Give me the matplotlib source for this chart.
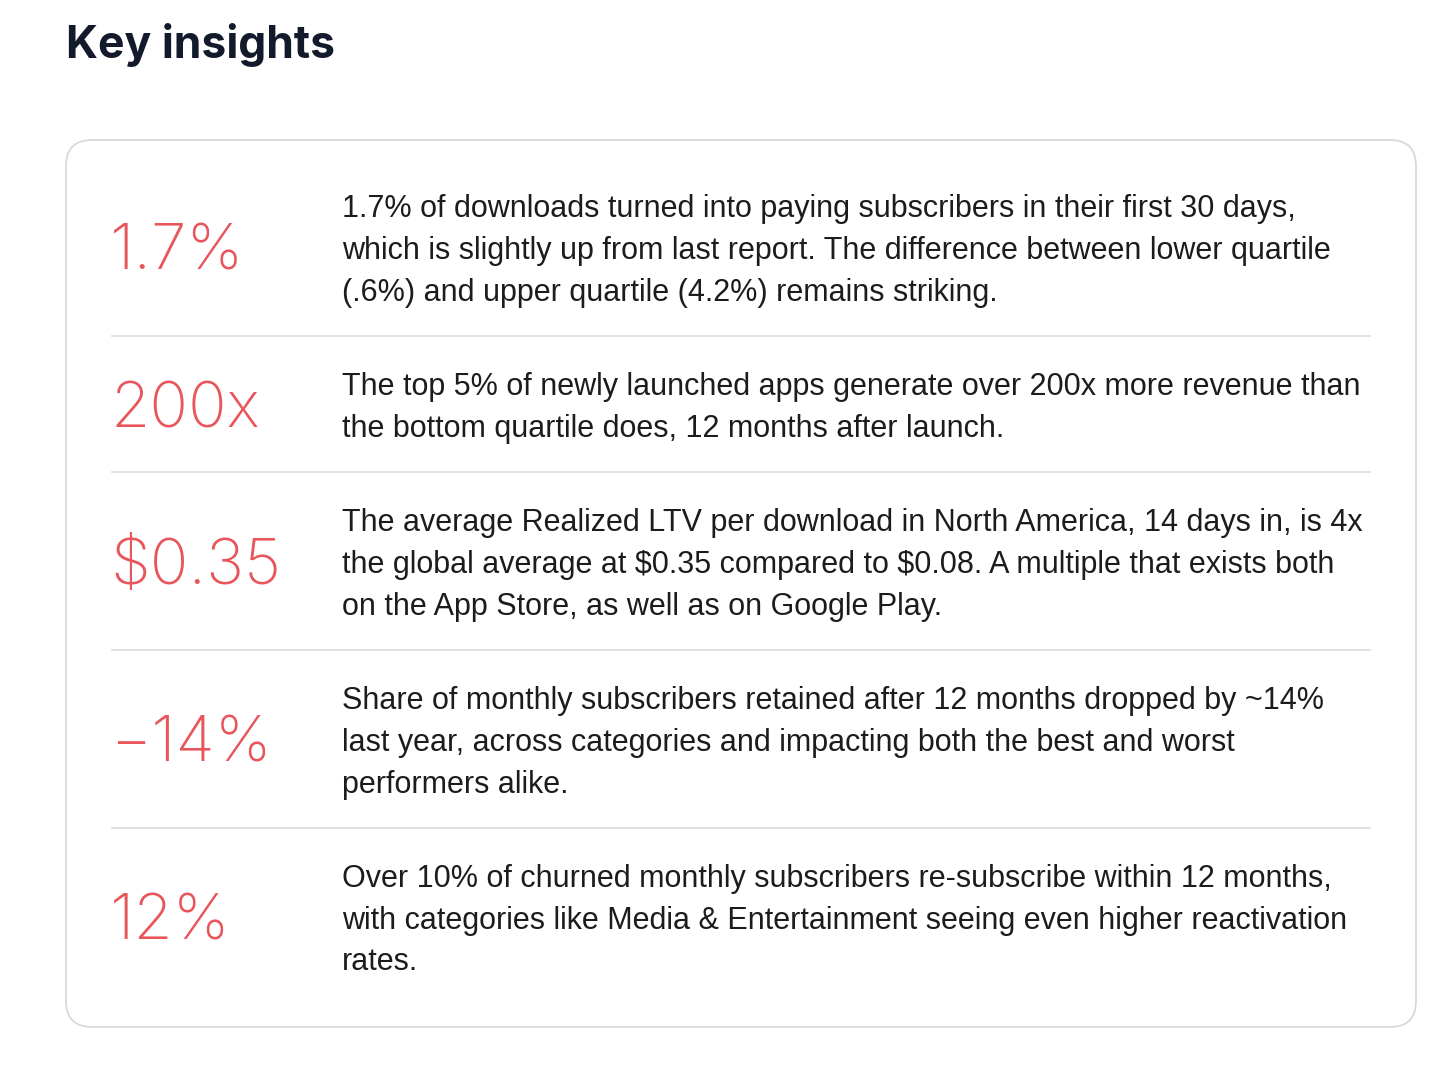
import matplotlib.pyplot as plt
from matplotlib.patches import FancyBboxPatch

# content
title = "Key insights"
big_values = ["1.7%", "200x", "$0.35", "\u221214%", "12%"]
descriptions = [
    ["1.7% of downloads turned into paying subscribers in their first 30 days,",
     "which is slightly up from last report. The difference between lower quartile",
     "(.6%) and upper quartile (4.2%) remains striking."],
    ["The top 5% of newly launched apps generate over 200x more revenue than",
     "the bottom quartile does, 12 months after launch."],
    ["The average Realized LTV per download in North America, 14 days in, is 4x",
     "the global average at $0.35 compared to $0.08. A multiple that exists both",
     "on the App Store, as well as on Google Play."],
    ["Share of monthly subscribers retained after 12 months dropped by ~14%",
     "last year, across categories and impacting both the best and worst",
     "performers alike."],
    ["Over 10% of churned monthly subscribers re-subscribe within 12 months,",
     "with categories like Media & Entertainment seeing even higher reactivation",
     "rates."],
]

red = "#e8555a"
ink = "#1c1c1c"
navy = "#131a2b"
rule = "#dedede"

W, H = 1456, 1072
fig = plt.figure(figsize=(W / 100, H / 100), dpi=100)
ax = fig.add_axes([0, 0, 1, 1])
ax.set_xlim(0, W)
ax.set_ylim(H, 0)
ax.axis("off")

ax.text(66, 58, title, fontsize=32, fontweight="bold", color=navy,
        family=["Inter", "DejaVu Sans"], va="baseline", ha="left")

box_top, box_bot = 140, 1027
ax.add_patch(FancyBboxPatch((66, box_top), 1350, box_bot - box_top,
                            boxstyle="round,pad=0,rounding_size=26",
                            fc="white", ec="#d9d9d9", lw=1.3))

line_h = 42
pad = 26
y = box_top + 18
for i, (val, lines) in enumerate(zip(big_values, descriptions)):
    row_h = 2 * pad + line_h * len(lines)
    center = y + row_h / 2
    ax.text(110, center, val, fontsize=46, color=red, fontweight="light",
            family=["Inter", "DejaVu Sans"], va="center_baseline", ha="left",
            parse_math=False)
    first = center - line_h * (len(lines) - 1) / 2
    for k, ln in enumerate(lines):
        ax.text(342, first + k * line_h, ln, fontsize=22, color=ink,
                family=["Liberation Sans", "DejaVu Sans"],
                va="center_baseline", ha="left", parse_math=False)
    y += row_h
    if i < len(big_values) - 1:
        ax.plot([112, 1370], [y, y], color=rule, lw=1.3)

fig.savefig("out.png", dpi=100, facecolor="white")
